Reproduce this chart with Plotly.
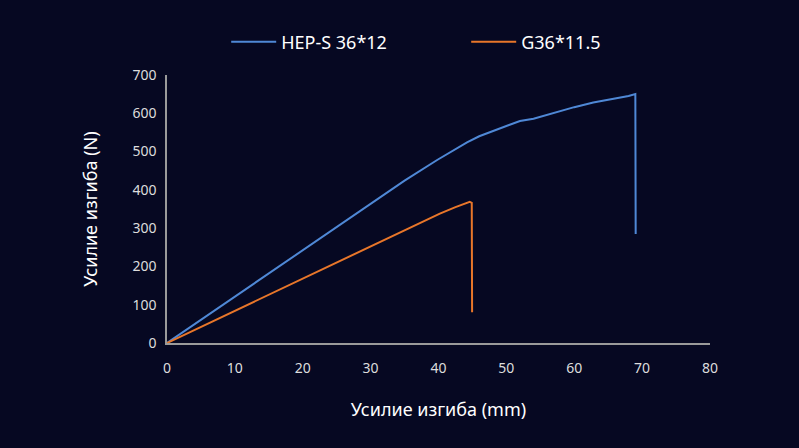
import plotly.graph_objects as go

blue_name = "HEP-S 36*12"
blue_x = [0, 10, 20, 30, 35, 39.8, 42, 44.2, 46, 48.1, 50, 52, 54, 56, 57.9, 60, 62.8, 66, 68, 69, 69.05]
blue_y = [0, 121, 242, 363, 424, 478, 502, 524, 540, 554, 568, 580, 586, 596, 606, 616, 628, 638, 645, 650, 285]

orange_name = "G36*11.5"
orange_x = [0, 10, 20, 30, 36.3, 40.2, 42.5, 44.2, 44.6, 44.9, 44.95]
orange_y = [0, 84, 168, 252, 304, 338, 355, 367, 369, 366, 80]

x_ticks = [0, 10, 20, 30, 40, 50, 60, 70, 80]
y_ticks = [0, 100, 200, 300, 400, 500, 600, 700]

bg = "#060822"
fig = go.Figure()
fig.add_trace(go.Scatter(x=blue_x, y=blue_y, mode="lines", name=blue_name,
                         line=dict(color="#4f88d6", width=2)))
fig.add_trace(go.Scatter(x=orange_x, y=orange_y, mode="lines", name=orange_name,
                         line=dict(color="#e8762a", width=2)))

fig.update_layout(
    width=799, height=448,
    paper_bgcolor=bg, plot_bgcolor=bg,
    margin=dict(l=167, r=89, t=75, b=105, autoexpand=False),
    font=dict(family="Noto Sans, sans-serif", color="#e8e8e8"),
    showlegend=True,
    legend=dict(orientation="h", x=0.551, xanchor="center", y=1.123, yanchor="middle",
                font=dict(size=18, color="#ffffff"), itemwidth=45,
                bgcolor="rgba(0,0,0,0)", entrywidthmode="pixels", entrywidth=180),
    xaxis=dict(range=[0, 80], tickvals=x_ticks, showgrid=False, zeroline=False,
               showline=True, linecolor="#9a9a9a", linewidth=1.5,
               ticks="outside", ticklen=11, tickcolor=bg,
               tickfont=dict(size=14, color="#dddddd"),
               title=dict(text="Усилие изгиба (mm)", font=dict(size=18, color="#ffffff"), standoff=28)),
    yaxis=dict(range=[0, 700], tickvals=y_ticks, showgrid=False, zeroline=False,
               showline=True, linecolor="#9a9a9a", linewidth=1.5,
               ticks="outside", ticklen=6, tickcolor=bg,
               tickfont=dict(size=14, color="#dddddd"),
               title=dict(text="Усилие изгиба (N)", font=dict(size=18, color="#ffffff"), standoff=30)),
)
fig.write_html("out.html")
